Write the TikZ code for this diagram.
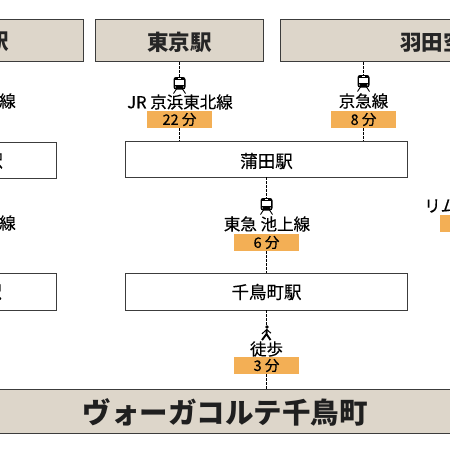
\documentclass[tikz,border=0pt]{standalone}
\usepackage{fontspec}
\setmainfont{Noto Sans CJK JP}
\newfontfamily\medfont[FakeBold=0.35]{Noto Sans CJK JP}
\definecolor{band}{HTML}{DDD6CA}
\definecolor{tag}{HTML}{F3AF55}
\definecolor{edge}{HTML}{3C3C3C}
\tikzset{
  hub/.style={draw=edge,line width=0.9pt,fill=band,minimum height=42.5pt,inner sep=0pt},
  stn/.style={draw=edge,line width=0.9pt,fill=white,inner sep=0pt},
  tagbox/.style={fill=tag,minimum width=65pt,minimum height=17pt,inner sep=0pt,font=\fontsize{14.5}{15}\selectfont\medfont},
  lab/.style={inner sep=0pt,font=\fontsize{16.5}{17}\selectfont\medfont,text=black},
  hubtxt/.style={inner sep=0pt,font=\fontsize{21.5}{22}\selectfont\bfseries,text=black!85},
  stntxt/.style={inner sep=0pt,font=\fontsize{17.5}{18}\selectfont\medfont,text=black},
  link/.style={draw=black,line width=1pt,dash pattern=on 2.6pt off 1.4pt},
  iconslot/.style={inner sep=0pt,minimum width=12pt},
  train/.pic={
    \fill[black,rounded corners=2.5pt] (-6,-8) rectangle (6,4.5);
    \fill[white] (-4.4,-5) rectangle (4.4,-0.5);
    \fill[white] (-1.5,-6.8) rectangle (1.5,-6);
    \fill[white] (-4,2) circle (0.7) (4,2) circle (0.7);
    \draw[black,line width=0.9pt] (-3,4) -- (-6,8.5) (3,4) -- (6,8.5);
  },
  walker/.pic={
    \fill[black] (0.5,-6) circle (1.8);
    \draw[black,line width=1.9pt] (0.3,-3.6) -- (0,1) -- (-4.5,7) (0,1) -- (4,7);
    \draw[black,line width=1pt] (-4.5,0.8) -- (0.2,-3.4) -- (4.5,0.2);
  }
}
\begin{document}
\begin{tikzpicture}[x=1pt,y=-1pt]
\useasboundingbox[fill=white] (0,0) rectangle (450,450);
% hubs
\node[hub,minimum width=167.5pt] (tokyo) at (179.2,40.5) {};
\node[hub,minimum width=110pt] (lefthub) at (28,40.5) {};
\node[hub,minimum width=220pt] (haneda) at (390.5,40.5) {};
\node[hub,minimum width=470pt,minimum height=44.5pt] (vog) at (225,411.5) {};
% stations
\node[stn,minimum width=282.5pt,minimum height=36pt] (kamata) at (266.5,159) {};
\node[stn,minimum width=282.5pt,minimum height=37pt] (chidori) at (266.5,291.5) {};
\node[stn,minimum width=110pt,minimum height=36pt] (leftb) at (1,160) {};
\node[stn,minimum width=110pt,minimum height=37pt] (leftc) at (1,291.5) {};
% tags
\node[tagbox] (t22) at (179.5,119.5) {22 分};
\node[tagbox] (t8) at (363.5,119.5) {8 分};
\node[tagbox] (t6) at (266.5,242.5) {6 分};
\node[tagbox] (t3) at (266.5,365.5) {3 分};
\node[fill=tag,minimum width=65pt,minimum height=17pt,inner sep=0pt] (tr) at (472.5,223.5) {};
% icon slots
\node[iconslot,minimum height=15pt] (ic1) at (179.5,85) {};
\node[iconslot,minimum height=15pt] (ic2) at (363.5,83) {};
\node[iconslot,minimum height=15pt] (ic3) at (266.5,206) {};
\node[iconslot,minimum height=15pt] (ic4) at (266.5,333) {};
\pic at (ic1) {train};
\pic at (ic2) {train};
\pic at (ic3) {train};
\pic at (ic4) {walker};
% connectors
\draw[link] (tokyo.south -| ic1) -- (ic1.north);
\draw[link] (t22.south) -- (kamata.north -| t22);
\draw[link] (haneda.south -| ic2) -- (ic2.north);
\draw[link] (t8.south) -- (kamata.north -| t8);
\draw[link] (kamata.south -| ic3) -- (ic3.north);
\draw[link] (t6.south) -- (chidori.north -| t6);
\draw[link] (chidori.south -| ic4) -- (ic4.north);
\draw[link] (t3.south) -- (vog.north -| t3);
% labels
\node[lab] (l22) at (180,102) {JR 京浜東北線};
\node[lab] (l8) at (363.5,101) {京急線};
\node[lab] (l6) at (267,224) {東急 池上線};
\node[lab] (l3) at (266.5,349) {徒歩};
\node[lab,anchor=east] (ll1) at (16,101) {線};
\node[lab,anchor=east] (ll2) at (16,223) {線};
\node[lab,anchor=west] (lr) at (424,206) {リム};
% texts
\node[hubtxt] (ttokyo) at (179.5,42) {東京駅};
\node[hubtxt,anchor=east] (tleft) at (9,42) {駅};
\node[hubtxt,anchor=west] (thaneda) at (400,42) {羽田空};
\node[stntxt] (tkamata) at (266.5,161) {蒲田駅};
\node[stntxt] (tchidori) at (266.5,292) {千鳥町駅};
\node[stntxt,anchor=east] (tlb) at (3,161) {駅};
\node[stntxt,anchor=east] (tlc) at (2,292) {駅};
\node[inner sep=0pt,font=\fontsize{28.5}{30}\selectfont\bfseries,text=black!88] (tvog) at (225,412) {ヴォーガコルテ千鳥町};
\end{tikzpicture}
\end{document}
